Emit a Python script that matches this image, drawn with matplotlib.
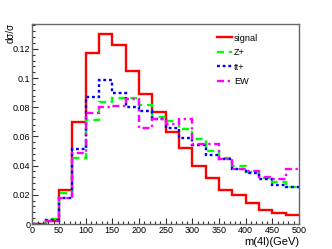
import numpy as np
import matplotlib
matplotlib.use("Agg")
import matplotlib.pyplot as plt
from matplotlib.ticker import MultipleLocator

plt.rcParams['font.family'] = ['Liberation Sans', 'DejaVu Sans']

edges = np.arange(0, 501, 25)
signal = [0, 0.002, 0.0235, 0.0696, 0.117, 0.130, 0.1226, 0.1045, 0.089, 0.0765,
          0.063, 0.0523, 0.0397, 0.0317, 0.0230, 0.0197, 0.0142, 0.0098, 0.0078, 0.0062]
zplus = [0, 0.0035, 0.021, 0.045, 0.071, 0.0838, 0.0863, 0.086, 0.0815, 0.073,
         0.0708, 0.065, 0.0585, 0.050, 0.045, 0.040, 0.0358, 0.0315, 0.0285, 0.0256]
ttplus = [0, 0.003, 0.0178, 0.0514, 0.0868, 0.0986, 0.090, 0.0804, 0.0776, 0.0717,
          0.0655, 0.0590, 0.0541, 0.0470, 0.0442, 0.0378, 0.0347, 0.0307, 0.0267, 0.0256]
ew = [0, 0.002, 0.0176, 0.0484, 0.0763, 0.080, 0.081, 0.0855, 0.066, 0.072,
      0.0685, 0.072, 0.0545, 0.0548, 0.0448, 0.0378, 0.0362, 0.0322, 0.0305, 0.0378]

fig = plt.figure(figsize=(3.32, 2.49), dpi=100)
ax = fig.add_axes([32.3/332, 1-224/249, (299-32.3)/332, (224-24.3)/249])

ax.stairs(signal, edges, color='#ff0000', lw=1.7, label='signal', baseline=None)
ax.stairs(zplus, edges, color='#00ff00', lw=1.7, ls=(0, (3, 2)), label='Z+', baseline=None)
ax.stairs(ttplus, edges, color='#0000ff', lw=1.7, ls=(0, (1.2, 1.2)), label='tt+', baseline=None)
ax.stairs(ew, edges, color='#ff00ff', lw=1.7, ls=(0, (3, 1.5, 1, 1.5)), label='EW', baseline=None)

ax.set_xlim(0, 500)
ax.set_ylim(0, 0.1368)
ax.xaxis.set_major_locator(MultipleLocator(50))
ax.xaxis.set_minor_locator(MultipleLocator(10))
ax.yaxis.set_minor_locator(MultipleLocator(0.004))
ax.set_yticks([0, 0.02, 0.04, 0.06, 0.08, 0.1, 0.12])
ax.set_yticklabels(['0', '0.02', '0.04', '0.06', '0.08', '0.1', '0.12'])
ax.tick_params(which='both', direction='in', top=False, right=False, labelsize=6.5, colors='#333333', labelcolor='black')
ax.tick_params(which='major', length=4.5, width=0.8)
ax.tick_params(which='minor', length=2.2, width=0.8)
ax.tick_params(axis='y', pad=1.5)
ax.tick_params(axis='x', pad=1.5)
for s in ax.spines.values():
    s.set_color('#666666')
    s.set_linewidth(1.0)

leg = ax.legend(loc='upper left', bbox_to_anchor=(0.693, 0.953), frameon=False, fontsize=6.6,
                handlelength=1.6, handletextpad=0.25, labelspacing=0.6, borderaxespad=0,
                borderpad=0)

fig.text(11/332, 1-23/249, 'dσ/σ', rotation=90, ha='center', va='top', fontsize=7)
fig.text(299/332, 1-242/249, 'm(4l)(GeV)', ha='right', va='center', fontsize=8)

fig.savefig('out.png', dpi=100)
